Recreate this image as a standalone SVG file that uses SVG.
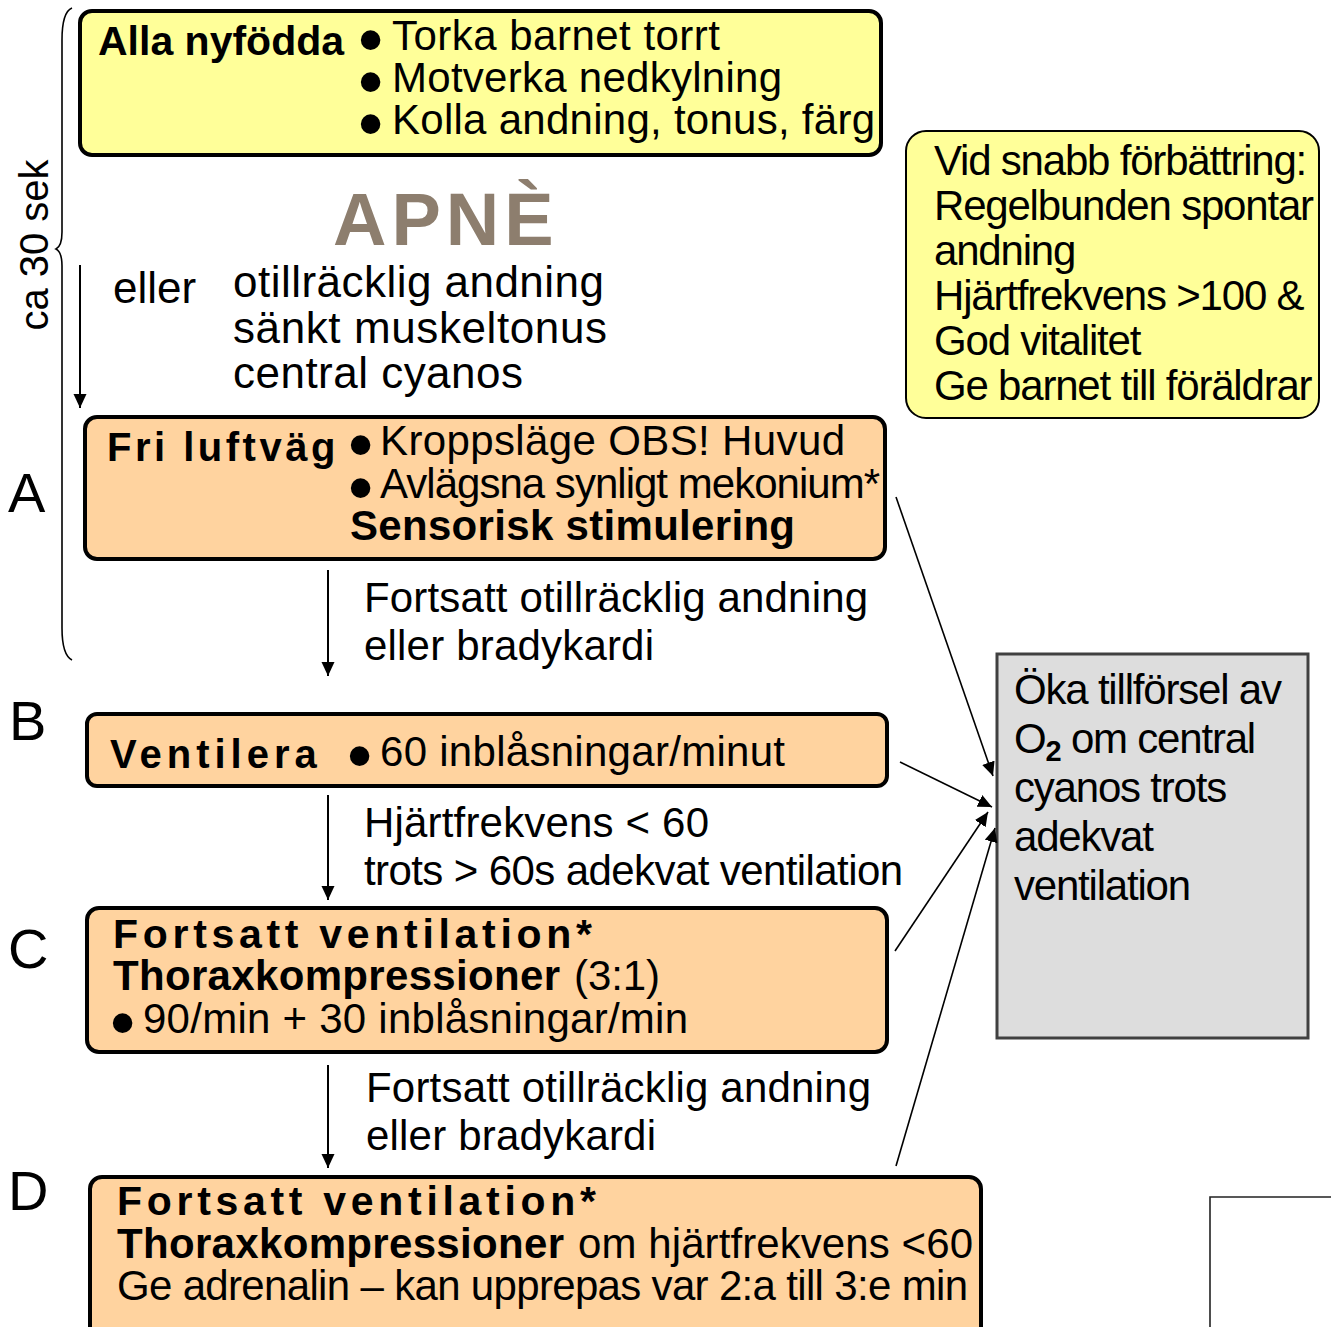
<svg xmlns="http://www.w3.org/2000/svg" width="1331" height="1327" viewBox="0 0 1331 1327">
  <defs>
    <marker id="arrow" viewBox="0 0 14 14" refX="14" refY="7" markerWidth="14" markerHeight="14" markerUnits="userSpaceOnUse" orient="auto">
      <path d="M0,0.5 L14,7 L0,13.5 z" fill="#000"/>
    </marker>
    <style>
      text { font-family: "Liberation Sans", Arial, sans-serif; fill: #000; }
      .t { font-size: 42px; }
      .b { font-size: 42px; font-weight: bold; }
      .sp { font-size: 41px; font-weight: bold; letter-spacing: 4.7px; }
      .lbl { font-size: 56px; }
      .bul { font-size: 72px; }
      .note { font-size: 42px; letter-spacing: -1.2px; }
      .step { fill: #FFD39F; stroke: #000; stroke-width: 4; }
      .first { fill: #FFFF99; stroke: #000; stroke-width: 4; }
      .conn { stroke: #000; stroke-width: 2; fill: none; }
      .diag { stroke: #000; stroke-width: 1.6; fill: none; }
    </style>
  </defs>
  <rect width="1331" height="1327" fill="#fff"/>

  <!-- time brace on the left -->
  <g id="brace">
    <path d="M72,8 Q62,12 62,40 L62,232 Q62,246 56,249 Q62,252 62,266 L62,628 Q62,655 72,660" fill="none" stroke="#000" stroke-width="1.6"/>
    <text transform="translate(48,245) rotate(-90)" text-anchor="middle" style="font-size:40px">ca 30 sek</text>
  </g>

  <!-- step letters -->
  <g id="letters">
    <text class="lbl" x="8" y="512">A</text>
    <text class="lbl" x="9" y="740">B</text>
    <text class="lbl" x="8" y="968">C</text>
    <text class="lbl" x="8" y="1210">D</text>
  </g>

  <!-- all newborns -->
  <g id="node-alla">
    <rect class="first" x="80" y="11" width="801" height="144" rx="12"/>
    <text class="b" x="98" y="55" style="font-size:41px">Alla nyfödda</text>
    <text class="bul" x="358" y="64">•</text>
    <text class="t" x="392" y="50" textLength="328">Torka barnet torrt</text>
    <text class="bul" x="358" y="106">•</text>
    <text class="t" x="392" y="92" textLength="390">Motverka nedkylning</text>
    <text class="bul" x="358" y="148">•</text>
    <text class="t" x="392" y="134" textLength="483">Kolla andning, tonus, färg</text>
  </g>

  <!-- apnea -->
  <g id="node-apne">
    <text x="333" y="245" style="font-size:74px;font-weight:bold;letter-spacing:5px;fill:#8D7E6E">APNÈ</text>
    <text x="113" y="303" style="font-size:44px">eller</text>
    <text x="233" y="297" style="font-size:44px" textLength="371">otillräcklig andning</text>
    <text x="233" y="343" style="font-size:44px" textLength="374">sänkt muskeltonus</text>
    <text x="233" y="388" style="font-size:44px" textLength="290">central cyanos</text>
  </g>

  <!-- A: airway -->
  <g id="node-a">
    <rect class="step" x="85" y="417" width="800" height="142" rx="12"/>
    <text x="107" y="461" style="font-size:40px;font-weight:bold;letter-spacing:3.5px">Fri luftväg</text>
    <text class="bul" x="348" y="469">•</text>
    <text class="t" x="380" y="455" textLength="465">Kroppsläge OBS! Huvud</text>
    <text class="bul" x="348" y="512">•</text>
    <text class="t" x="380" y="498" textLength="500">Avlägsna synligt mekonium*</text>
    <text class="b" x="350" y="540" textLength="445">Sensorisk stimulering</text>
  </g>

  <!-- B: ventilate -->
  <g id="node-b">
    <rect class="step" x="87" y="714" width="800" height="72" rx="10"/>
    <text x="110" y="768" style="font-size:40px;font-weight:bold;letter-spacing:5px">Ventilera</text>
    <text class="bul" x="347" y="780">•</text>
    <text class="t" x="380" y="766" textLength="405">60 inblåsningar/minut</text>
  </g>

  <!-- C: compressions -->
  <g id="node-c">
    <rect class="step" x="87" y="908" width="800" height="144" rx="12"/>
    <text class="sp" x="113" y="948">Fortsatt ventilation*</text>
    <text class="b" x="113" y="990" textLength="447">Thoraxkompressioner</text>
    <text class="t" x="574" y="990" textLength="86">(3:1)</text>
    <text class="bul" x="110" y="1047">•</text>
    <text class="t" x="143" y="1033" textLength="545">90/min + 30 inblåsningar/min</text>
  </g>

  <!-- D: adrenaline -->
  <g id="node-d">
    <rect class="step" x="90" y="1177" width="891" height="170" rx="12"/>
    <text class="sp" x="117" y="1215">Fortsatt ventilation*</text>
    <text class="b" x="117" y="1258" textLength="447">Thoraxkompressioner</text>
    <text class="t" x="578" y="1258" textLength="395">om hjärtfrekvens &lt;60</text>
    <text class="t" x="117" y="1300" textLength="851">Ge adrenalin – kan upprepas var 2:a till 3:e min</text>
  </g>

  <!-- quick improvement -->
  <g id="node-improve">
    <rect x="906" y="131" width="413" height="287" rx="20" fill="#FFFF99" stroke="#000" stroke-width="2"/>
    <text class="note">
      <tspan x="934" y="175">Vid snabb förbättring:</tspan>
      <tspan x="934" y="220">Regelbunden spontar</tspan>
      <tspan x="934" y="265">andning</tspan>
      <tspan x="934" y="310">Hjärtfrekvens &gt;100 &amp;</tspan>
      <tspan x="934" y="355">God vitalitet</tspan>
      <tspan x="934" y="400">Ge barnet till föräldrar</tspan>
    </text>
  </g>

  <!-- oxygen -->
  <g id="node-oxygen">
    <rect x="997" y="654" width="311" height="384" fill="#DDDDDD" stroke="#404040" stroke-width="3"/>
    <text class="note">
      <tspan x="1014" y="704">Öka tillförsel av</tspan>
      <tspan x="1014" y="753">O</tspan><tspan dy="8" style="font-size:29px;font-weight:bold">2</tspan><tspan dy="-8"> om central</tspan>
      <tspan x="1014" y="802">cyanos trots</tspan>
      <tspan x="1014" y="851">adekvat</tspan>
      <tspan x="1014" y="900">ventilation</tspan>
    </text>
  </g>

  <!-- corner lines, bottom right -->
  <g id="corner">
    <path d="M1331,1197 L1210,1197 L1210,1327" fill="none" stroke="#222" stroke-width="1.6"/>
  </g>

  <!-- connectors -->
  <g id="connectors">
    <line class="conn" x1="80" y1="265" x2="80" y2="408" marker-end="url(#arrow)"/>
    <line class="conn" x1="328" y1="570" x2="328" y2="676" marker-end="url(#arrow)"/>
    <line class="conn" x1="328" y1="795" x2="328" y2="900" marker-end="url(#arrow)"/>
    <line class="conn" x1="328" y1="1065" x2="328" y2="1168" marker-end="url(#arrow)"/>
    <text class="t" x="364" y="612" textLength="504">Fortsatt otillräcklig andning</text>
    <text class="t" x="364" y="660" textLength="290">eller bradykardi</text>
    <text class="t" x="364" y="837" textLength="345">Hjärtfrekvens &lt; 60</text>
    <text class="t" x="364" y="885" textLength="539">trots &gt; 60s adekvat ventilation</text>
    <text class="t" x="366" y="1102" textLength="505">Fortsatt otillräcklig andning</text>
    <text class="t" x="366" y="1150" textLength="290">eller bradykardi</text>
    <line class="diag" x1="896" y1="497" x2="993" y2="776" marker-end="url(#arrow)"/>
    <line class="diag" x1="900" y1="762" x2="992" y2="807" marker-end="url(#arrow)"/>
    <line class="diag" x1="895" y1="951" x2="988" y2="812" marker-end="url(#arrow)"/>
    <line class="diag" x1="896" y1="1166" x2="995" y2="828" marker-end="url(#arrow)"/>
  </g>
</svg>
